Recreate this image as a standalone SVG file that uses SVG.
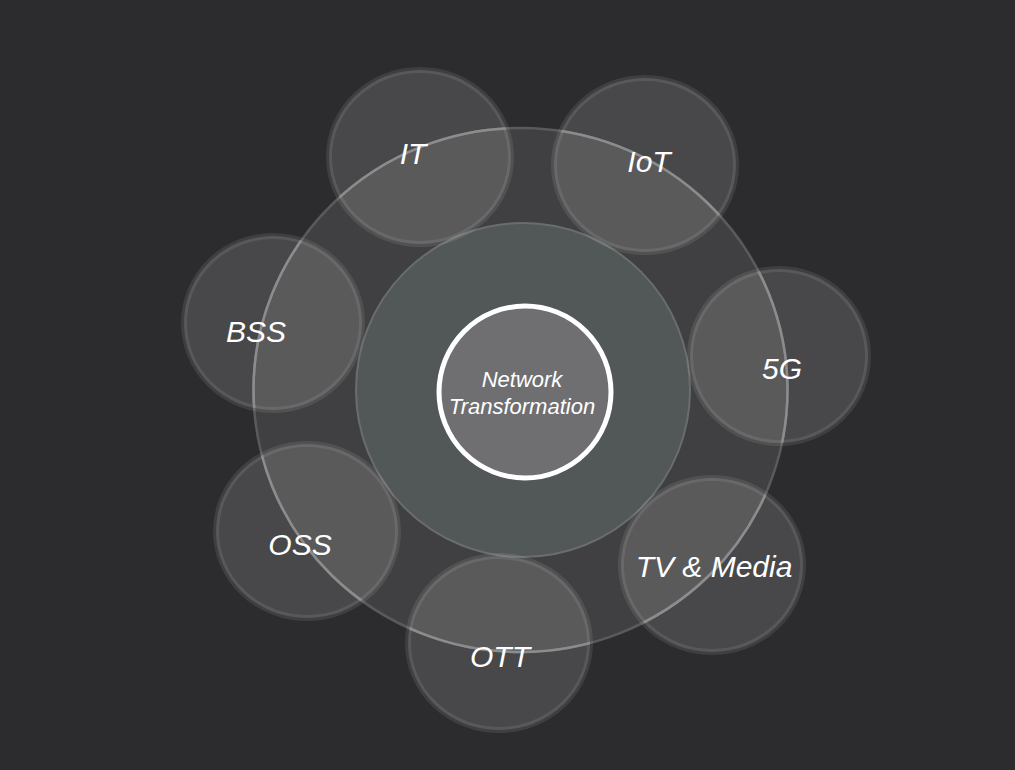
<svg xmlns="http://www.w3.org/2000/svg" xmlns:xlink="http://www.w3.org/1999/xlink" width="1015" height="770" viewBox="0 0 1015 770">
<defs>
<style>
.sat{fill:#ffffff;fill-opacity:0.137;stroke:#ffffff;stroke-opacity:0.09;stroke-width:6}
.lbl{font-family:"Liberation Sans",Arial,sans-serif;font-style:italic;font-size:30px;fill:#ffffff;text-anchor:middle}
.ctr{font-family:"Liberation Sans",Arial,sans-serif;font-style:italic;font-size:22px;fill:#ffffff;text-anchor:middle}
</style>
<ellipse id="eIT" cx="420" cy="157" rx="91" ry="87"/>
<ellipse id="eIoT" cx="645" cy="165" rx="91" ry="87"/>
<ellipse id="e5G" cx="779" cy="356" rx="89" ry="87"/>
<ellipse id="eTV" cx="712" cy="565" rx="91" ry="87"/>
<ellipse id="eOTT" cx="499" cy="643" rx="91" ry="87"/>
<ellipse id="eOSS" cx="307" cy="531" rx="91" ry="87"/>
<ellipse id="eBSS" cx="273" cy="323" rx="89" ry="87"/>
<clipPath id="satClip">
<use xlink:href="#eIT"/><use xlink:href="#eIoT"/><use xlink:href="#e5G"/><use xlink:href="#eTV"/><use xlink:href="#eOTT"/><use xlink:href="#eOSS"/><use xlink:href="#eBSS"/>
</clipPath>
</defs>
<rect width="1015" height="770" fill="#2c2c2e"/>
<g id="ring">
<ellipse cx="520.5" cy="390" rx="267" ry="262" fill="#404042" stroke="#5a5a5c" stroke-width="2.5"/>
</g>
<g id="middle">
<circle cx="523" cy="390" r="167" fill="#525758" stroke="#6a6d6e" stroke-width="2"/>
</g>
<g id="center-node">
<circle cx="525" cy="392" r="86" fill="#6f6f71" stroke="#ffffff" stroke-width="5"/>
<text class="ctr" x="522" y="387">Network</text>
<text class="ctr" x="522" y="414">Transformation</text>
</g>
<g id="node-IT"><use xlink:href="#eIT" class="sat"/></g>
<g id="node-IoT"><use xlink:href="#eIoT" class="sat"/></g>
<g id="node-5G"><use xlink:href="#e5G" class="sat"/></g>
<g id="node-TV"><use xlink:href="#eTV" class="sat"/></g>
<g id="node-OTT"><use xlink:href="#eOTT" class="sat"/></g>
<g id="node-OSS"><use xlink:href="#eOSS" class="sat"/></g>
<g id="node-BSS"><use xlink:href="#eBSS" class="sat"/></g>
<g id="connectors">
<ellipse cx="520.5" cy="390" rx="267" ry="262" fill="none" stroke="#8c8c8e" stroke-width="2.5" clip-path="url(#satClip)"/>
</g>
<g id="labels">
<text class="lbl" x="413" y="164">IT</text>
<text class="lbl" x="649" y="172">IoT</text>
<text class="lbl" x="782" y="379">5G</text>
<text class="lbl" x="714" y="577">TV &amp; Media</text>
<text class="lbl" x="500" y="667">OTT</text>
<text class="lbl" x="300" y="555">OSS</text>
<text class="lbl" x="256" y="342">BSS</text>
</g>
</svg>
